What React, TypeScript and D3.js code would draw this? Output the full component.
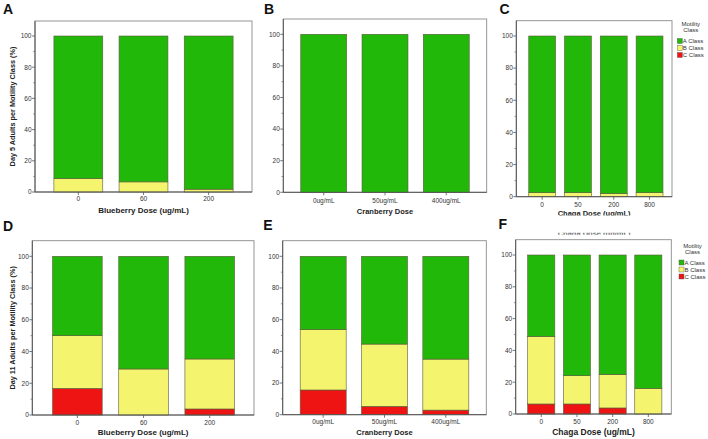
import React from "react";
import * as d3 from "d3";

// ---------- data ----------
const blueberryDoses = ["0", "60", "200"];
const cranberryDoses = ["0ug/mL", "50ug/mL", "400ug/mL"];
const chagaDoses = ["0", "50", "200", "800"];

// Day 5 (% per motility class)
const day5BlueberryC = [0, 0, 0];
const day5BlueberryB = [8.7, 6.5, 1.8];
const day5CranberryC = [0, 0, 0];
const day5CranberryB = [0, 0, 0];
const day5ChagaC = [0, 0, 0, 0];
const day5ChagaB = [2.5, 2.5, 2.0, 2.5];

// Day 11
const day11BlueberryC = [16.8, 0, 3.8];
const day11BlueberryB = [33.2, 29.0, 31.5];
const day11CranberryC = [15.6, 5.3, 2.9];
const day11CranberryB = [38.1, 39.3, 32.2];
const day11ChagaC = [6.3, 6.3, 3.8, 0];
const day11ChagaB = [42.5, 17.8, 21.1, 16.1];

const yTicks = [0, 20, 40, 60, 80, 100];
const yMinorTicks = [10, 30, 50, 70, 90];
const classKeys = ["C", "B", "A"];
const legendLabels = ["A Class", "B Class", "C Class"];

const COLORS: Record<string, string> = { A: "#22b80a", B: "#f4f46e", C: "#ee1414" };
const FONT = "'Liberation Sans', Arial, sans-serif";

function buildRows(cats: string[], c: number[], b: number[]) {
  return cats.map((cat, i) => ({ cat, C: c[i], B: b[i], A: 100 - c[i] - b[i] }));
}

type PanelCfg = {
  letter: string;
  lx: number;
  ly: number;
  left: number;
  right: number;
  top: number;
  y0: number;
  y100: number;
  pi: number;
  po: number;
  align: number;
  cats: string[];
  rows: { cat: string; A: number; B: number; C: number }[];
  xTitle: string;
  xTitleSize: number;
  xTitleY: number;
  tickY: number;
  yTitle?: string;
  legend?: { x: number; y: number };
  clipXTitle?: number;
};

const panels: PanelCfg[] = [
  {
    letter: "A", lx: 3, ly: 13.5, left: 35, right: 252, top: 21, y0: 192, y100: 36,
    pi: 0.25, po: 0.29, align: 0.5, cats: blueberryDoses,
    rows: buildRows(blueberryDoses, day5BlueberryC, day5BlueberryB),
    xTitle: "Blueberry Dose (ug/mL)", xTitleSize: 8, xTitleY: 213, tickY: 200.5,
    yTitle: "Day 5 Adults per Motility Class (%)",
  },
  {
    letter: "B", lx: 264, ly: 13.5, left: 283.3, right: 486.7, top: 19, y0: 192.3, y100: 34.3,
    pi: 0.25, po: 0.285, align: 0.5, cats: cranberryDoses,
    rows: buildRows(cranberryDoses, day5CranberryC, day5CranberryB),
    xTitle: "Cranberry Dose", xTitleSize: 7.5, xTitleY: 214, tickY: 202.5,
  },
  {
    letter: "C", lx: 499.5, ly: 13.5, left: 516.3, right: 672, top: 20.7, y0: 196.7, y100: 36,
    pi: 0.25, po: 0.3, align: 0.58, cats: chagaDoses,
    rows: buildRows(chagaDoses, day5ChagaC, day5ChagaB),
    xTitle: "Chaga Dose (ug/mL)", xTitleSize: 7.5, xTitleY: 216, tickY: 206.5,
    legend: { x: 677.3, y: 26 }, clipXTitle: 215.6,
  },
  {
    letter: "D", lx: 3, ly: 230.5, left: 32.3, right: 254, top: 240.7, y0: 415, y100: 256.3,
    pi: 0.25, po: 0.3, align: 0.51, cats: blueberryDoses,
    rows: buildRows(blueberryDoses, day11BlueberryC, day11BlueberryB),
    xTitle: "Blueberry Dose (ug/mL)", xTitleSize: 8, xTitleY: 435, tickY: 424.5,
    yTitle: "Day 11 Adults per Motility Class (%)",
  },
  {
    letter: "E", lx: 263.3, ly: 229.5, left: 282.7, right: 486.3, top: 240.7, y0: 414.7, y100: 256.3,
    pi: 0.25, po: 0.285, align: 0.5, cats: cranberryDoses,
    rows: buildRows(cranberryDoses, day11CranberryC, day11CranberryB),
    xTitle: "Cranberry Dose", xTitleSize: 7.5, xTitleY: 435, tickY: 423.5,
  },
  {
    letter: "F", lx: 498.5, ly: 228.7, left: 515.7, right: 671.3, top: 239.7, y0: 414, y100: 255,
    pi: 0.24, po: 0.3, align: 0.56, cats: chagaDoses,
    rows: buildRows(chagaDoses, day11ChagaC, day11ChagaB),
    xTitle: "Chaga Dose (ug/mL)", xTitleSize: 8.5, xTitleY: 435, tickY: 423.5,
    legend: { x: 679, y: 247.5 },
  },
];

function Panel({ p, idx }: { p: PanelCfg; idx: number }) {
  const x = d3
    .scaleBand<string>()
    .domain(p.cats)
    .range([p.left, p.right])
    .paddingInner(p.pi)
    .paddingOuter(p.po)
    .align(p.align);
  const y = d3.scaleLinear().domain([0, 100]).range([p.y0, p.y100]);
  const stack = d3.stack<any>().keys(classKeys);
  const series = stack(p.rows as any);
  const axisColor = "#555";
  const frameColor = "#8a8a8a";
  const cx = (p.left + p.right) / 2;
  const cy = (p.top + p.y0) / 2;
  const clipId = `clip-xt-${idx}`;
  return (
    <g>
      <text x={p.lx} y={p.ly} fontFamily={FONT} fontWeight="bold" fontSize={14} fill="#111">
        {p.letter}
      </text>
      {/* frame */}
      <rect x={p.left} y={p.top} width={p.right - p.left} height={p.y0 - p.top} fill="#fff" stroke={frameColor} strokeWidth={0.9} />
      {/* bars */}
      {series.map((s) =>
        s.map((d, i) => {
          const h = y(d[0]) - y(d[1]);
          if (h <= 0.01) return null;
          return (
            <rect
              key={`${s.key}-${i}`}
              x={x(p.cats[i])}
              y={y(d[1])}
              width={x.bandwidth()}
              height={h}
              fill={COLORS[s.key as string]}
              stroke="#5a5a3a"
              strokeWidth={0.6}
            />
          );
        })
      )}
      {/* y axis */}
      <line x1={p.left} x2={p.left} y1={p.top} y2={p.y0} stroke={axisColor} strokeWidth={1} />
      {yTicks.map((t) => (
        <g key={t}>
          <line x1={p.left - 3} x2={p.left} y1={y(t)} y2={y(t)} stroke={axisColor} strokeWidth={0.8} />
          <text x={p.left - 3.5} y={y(t) + 2.3} textAnchor="end" fontFamily={FONT} fontSize={6.5} fill="#333">
            {t}
          </text>
        </g>
      ))}
      {yMinorTicks.map((t) => (
        <line key={t} x1={p.left - 1.8} x2={p.left} y1={y(t)} y2={y(t)} stroke={axisColor} strokeWidth={0.6} />
      ))}
      {/* x axis */}
      <line x1={p.left} x2={p.right} y1={p.y0} y2={p.y0} stroke={axisColor} strokeWidth={1} />
      {p.cats.map((c) => {
        const xc = (x(c) as number) + x.bandwidth() / 2;
        return (
          <g key={c}>
            <line x1={xc} x2={xc} y1={p.y0} y2={p.y0 + 3} stroke={axisColor} strokeWidth={0.8} />
            <text x={xc} y={p.tickY} textAnchor="middle" fontFamily={FONT} fontSize={6.5} fill="#333">
              {c}
            </text>
          </g>
        );
      })}
      {/* x title */}
      {p.clipXTitle !== undefined ? (
        <>
          <defs>
            <clipPath id={clipId}>
              <rect x={p.left} y={p.clipXTitle - 12} width={p.right - p.left} height={12} />
            </clipPath>
            <clipPath id={clipId + "-ghost"}>
              <rect x={p.left} y={232.8} width={p.right - p.left} height={2} />
            </clipPath>
          </defs>
          <text x={cx} y={p.xTitleY} textAnchor="middle" fontFamily={FONT} fontWeight="bold" fontSize={p.xTitleSize} fill="#222" clipPath={`url(#${clipId})`}>
            {p.xTitle}
          </text>
          <text x={cx} y={236} textAnchor="middle" fontFamily={FONT} fontWeight="bold" fontSize={p.xTitleSize} fill="#666" clipPath={`url(#${clipId}-ghost)`}>
            {p.xTitle}
          </text>
        </>
      ) : (
        <text x={cx} y={p.xTitleY} textAnchor="middle" fontFamily={FONT} fontWeight="bold" fontSize={p.xTitleSize} fill="#222">
          {p.xTitle}
        </text>
      )}
      {/* y title */}
      {p.yTitle && (
        <text
          transform={`translate(14.5,${cy}) rotate(-90)`}
          textAnchor="middle"
          fontFamily={FONT}
          fontWeight="bold"
          fontSize={7.3}
          fill="#222"
        >
          {p.yTitle}
        </text>
      )}
      {/* legend */}
      {p.legend && (
        <g>
          <text x={p.legend.x + 13.5} y={p.legend.y} textAnchor="middle" fontFamily={FONT} fontSize={6} fill="#333">
            Motility
          </text>
          <text x={p.legend.x + 13.5} y={p.legend.y + 6} textAnchor="middle" fontFamily={FONT} fontSize={6} fill="#333">
            Class
          </text>
          {legendLabels.map((lab, i) => (
            <g key={lab}>
              <rect
                x={p.legend!.x}
                y={p.legend!.y + 12.5 + i * 7}
                width={5}
                height={5}
                fill={COLORS[lab[0]]}
                stroke="#555"
                strokeWidth={0.4}
              />
              <text x={p.legend!.x + 5.5} y={p.legend!.y + 17.3 + i * 7} fontFamily={FONT} fontSize={6} fill="#333">
                {lab}
              </text>
            </g>
          ))}
        </g>
      )}
    </g>
  );
}

export default function App() {
  return (
    <svg
      width={708}
      height={439}
      viewBox="0 0 708 439"
      style={{ position: "absolute", left: 0, top: 0, background: "#fff" }}
    >
      <rect x={0} y={0} width={708} height={439} fill="#fff" />
      {panels.map((p, i) => (
        <Panel key={p.letter} p={p} idx={i} />
      ))}
    </svg>
  );
}
